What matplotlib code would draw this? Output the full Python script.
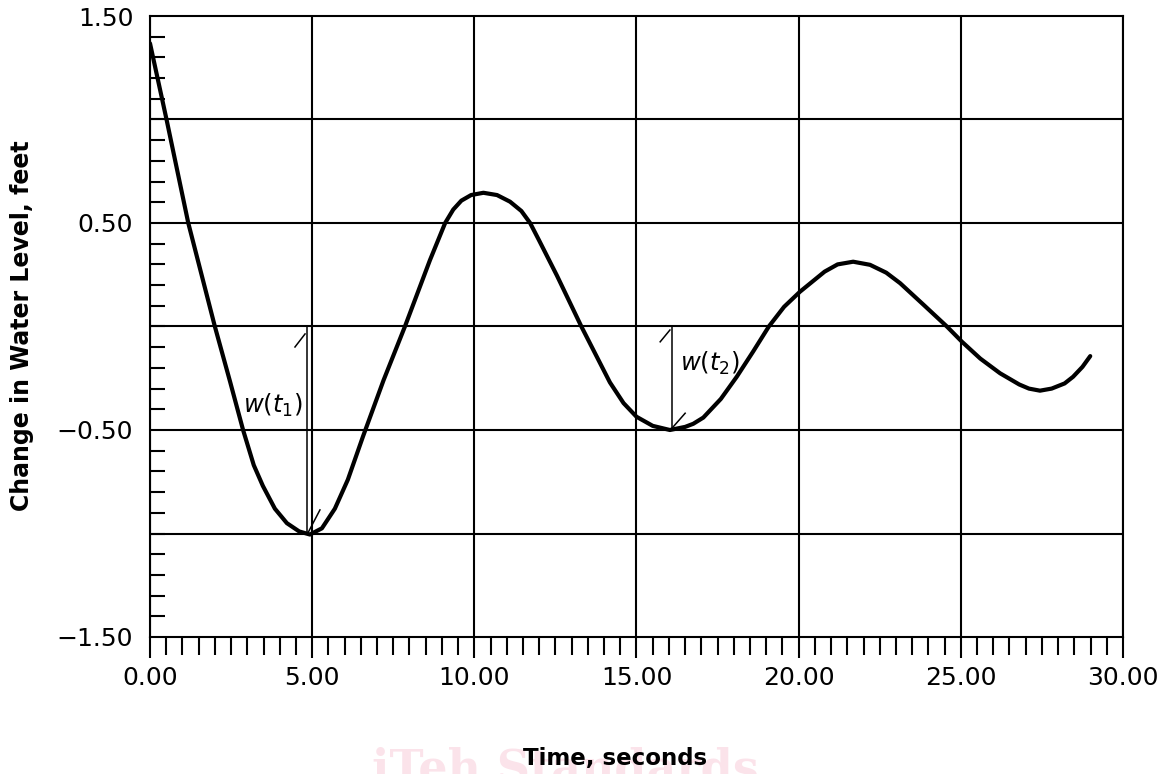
import numpy as np
import matplotlib
matplotlib.use("Agg")
import matplotlib.pyplot as plt
from matplotlib.ticker import MultipleLocator

# water level readings taken off the trace (seconds, feet)
time_s = [0.0, 0.51, 1.18, 2.0, 2.47, 2.87, 3.2, 3.48, 3.85, 4.22, 4.6, 4.93, 5.3, 5.7,
          6.1, 6.57, 7.2, 7.86, 8.63, 9.1, 9.35, 9.6, 9.9, 10.28, 10.7, 11.1, 11.45,
          11.72, 12.0, 12.55, 13.3, 14.18, 14.6, 15.0, 15.5, 16.03, 16.5, 16.75, 17.06,
          17.6, 18.09, 18.6, 19.08, 19.55, 20.04, 20.8, 21.2, 21.68, 22.2, 22.7, 23.13,
          23.85, 24.57, 25.03, 25.6, 26.21, 26.8, 27.1, 27.44, 27.8, 28.2, 28.46, 28.75,
          28.99]
level_ft = [1.368, 1.0, 0.5, 0.0, -0.267, -0.50, -0.67, -0.77, -0.88, -0.95, -0.99, -1.005,
            -0.975, -0.88, -0.74, -0.53, -0.26, 0.0, 0.32, 0.5, 0.565, 0.608, 0.635, 0.646,
            0.635, 0.603, 0.558, 0.5, 0.415, 0.245, 0.0, -0.27, -0.37, -0.436, -0.48, -0.50,
            -0.485, -0.47, -0.44, -0.35, -0.243, -0.12, 0.0, 0.095, 0.168, 0.265, 0.3, 0.313,
            0.298, 0.26, 0.209, 0.105, 0.0, -0.073, -0.155, -0.226, -0.28, -0.3, -0.31, -0.3,
            -0.275, -0.243, -0.195, -0.143]

x_ticks = [0, 5, 10, 15, 20, 25, 30]
y_ticks = [-1.5, -0.5, 0.5, 1.5]
y_grid = [-1.0, -0.5, 0.0, 0.5, 1.0]

# w(t) markers: time, top, bottom, label and its position
w1 = dict(t=4.85, top=0.0, bot=-1.0, lab="$w(t_1)$", lx=3.79, ly=-0.38)
w2 = dict(t=16.08, top=0.0, bot=-0.5, lab="$w(t_2)$", lx=17.27, ly=-0.18)
barbs = [((4.47, -0.099), (4.78, -0.036)), ((4.87, -0.997), (5.24, -0.886)),
         ((15.73, -0.074), (16.03, -0.017)), ((16.09, -0.492), (16.5, -0.419))]

plt.rcParams['mathtext.fontset'] = 'dejavusans'

fig = plt.figure(figsize=(11.64, 7.74), dpi=100)
ax = fig.add_axes([150/1164, 1-637/774, 973/1164, 621/774])

# faint watermark behind the x title
fig.text(372/1164, 1-782/774, "iTeh Standards", fontsize=33, family='DejaVu Serif',
         fontweight='bold', color='#fbe3ea', ha='left', va='baseline', zorder=0)

ax.set_xlim(0, 30)
ax.set_ylim(-1.5, 1.5)

for xv in x_ticks:
    ax.axvline(xv, color='black', lw=1.5, zorder=1)
for yv in y_grid:
    ax.axhline(yv, color='black', lw=1.5, zorder=1)

ax.plot(time_s, level_ft, color='black', lw=3.0, solid_joinstyle='round',
        solid_capstyle='round', zorder=3)

for w in (w1, w2):
    ax.plot([w['t'], w['t']], [w['top'], w['bot']], color='black', lw=1.1, zorder=2)
    ax.text(w['lx'], w['ly'], w['lab'], fontsize=17.5, ha='center', va='center', zorder=4)
for (a, b) in barbs:
    ax.plot([a[0], b[0]], [a[1], b[1]], color='black', lw=1.1, zorder=2)

ax.set_xticks(x_ticks)
ax.set_xticklabels([f"{v:.2f}" for v in x_ticks])
ax.xaxis.set_minor_locator(MultipleLocator(0.5))
ax.tick_params(axis='x', which='major', direction='out', length=15, width=1.5,
               labelsize=18, pad=6)
ax.tick_params(axis='x', which='minor', direction='out', length=13, width=1.5)

ax.set_yticks(y_ticks)
ax.set_yticklabels([f"{v:.2f}".replace('-', '\u2212') for v in y_ticks])
ax.yaxis.set_minor_locator(MultipleLocator(0.1))
ax.tick_params(axis='y', which='major', length=0, labelsize=18, pad=12)
ax.tick_params(axis='y', which='minor', direction='in', length=11, width=1.5)

for s in ax.spines.values():
    s.set_linewidth(1.5)

fig.text(22/1164, 1-326/774, "Change in Water Level, feet", rotation=90, fontsize=17,
         fontweight='bold', ha='center', va='center')
fig.text(615/1164, 1-758/774, "Time, seconds", fontsize=16.5, fontweight='bold',
         ha='center', va='center')

fig.savefig("out.png", dpi=100)
